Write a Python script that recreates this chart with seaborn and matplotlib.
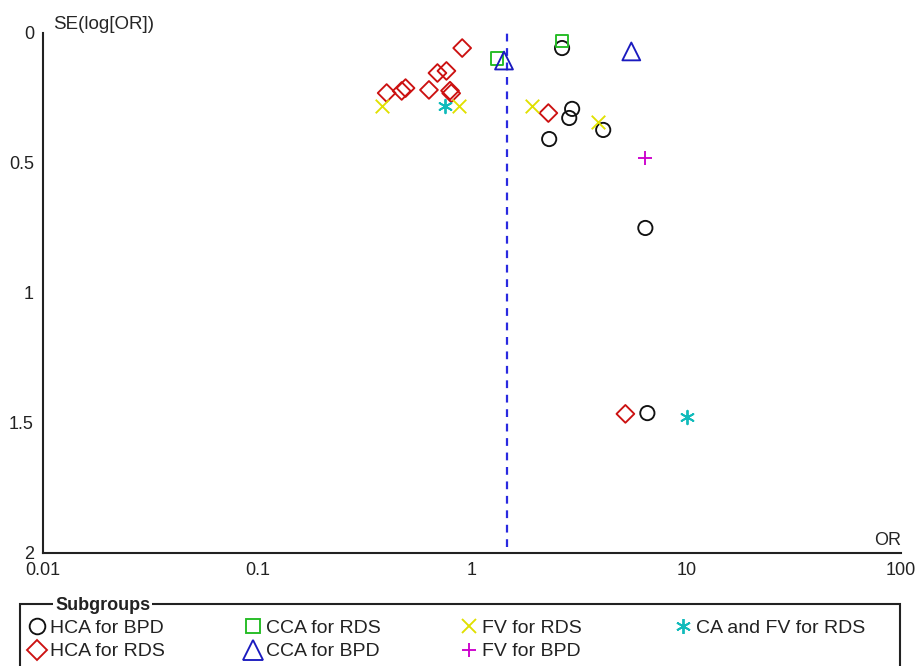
import matplotlib
matplotlib.use("Agg")
import matplotlib.pyplot as plt
import matplotlib.patches as mpatches
from matplotlib.lines import Line2D
import seaborn as sns
import pandas as pd

# ── data ──
hca_bpd_or = [2.63, 2.93, 2.84, 2.29, 4.09, 6.43, 6.57]
hca_bpd_se = [0.058, 0.292, 0.327, 0.408, 0.373, 0.75, 1.462]

hca_rds_or = [0.90, 0.69, 0.76, 0.40, 0.49, 0.47, 0.63, 0.79, 0.80, 2.27, 5.19]
hca_rds_se = [0.058, 0.154, 0.146, 0.231, 0.212, 0.223, 0.219, 0.222, 0.232, 0.308, 1.465]

cca_rds_or = [1.31, 2.63]
cca_rds_se = [0.099, 0.031]

cca_bpd_or = [1.41, 5.53]
cca_bpd_se = [0.106, 0.071]

fv_rds_or = [0.38, 0.87, 1.91, 3.88]
fv_rds_se = [0.281, 0.281, 0.281, 0.342]

fv_bpd_or = [6.43]
fv_bpd_se = [0.48]

ca_fv_rds_or = [0.75, 10.1]
ca_fv_rds_se = [0.281, 1.477]

pooled_or = 1.46

x_ticks = [0.01, 0.1, 1, 10, 100]
x_tick_labels = ["0.01", "0.1", "1", "10", "100"]
y_ticks = [0, 0.5, 1, 1.5, 2]
y_tick_labels = ["0", "0.5", "1", "1.5", "2"]

groups = [
    # name, ORs, SEs, marker, colour, size, open marker?
    ("HCA for BPD", hca_bpd_or, hca_bpd_se, "o", "#111111", 105, True),
    ("HCA for RDS", hca_rds_or, hca_rds_se, "D", "#cc1111", 82, True),
    ("CCA for RDS", cca_rds_or, cca_rds_se, "s", "#22bb22", 80, True),
    ("CCA for BPD", cca_bpd_or, cca_bpd_se, "^", "#1a1abf", 165, True),
    ("FV for RDS", fv_rds_or, fv_rds_se, "x", "#e0e000", 95, False),
    ("FV for BPD", fv_bpd_or, fv_bpd_se, "+", "#cc00cc", 95, False),
    ("CA and FV for RDS", ca_fv_rds_or, ca_fv_rds_se, (6, 2, 0), "#11bbbb", 95, False),
]

sns.set_theme(style="white")
plt.rcParams["font.family"] = ["Liberation Sans", "DejaVu Sans"]
plt.rcParams["text.color"] = "#222222"
plt.rcParams["xtick.color"] = "#222222"
plt.rcParams["ytick.color"] = "#222222"

fig = plt.figure(figsize=(9.19, 6.66), dpi=100)
ax = fig.add_axes([0.0468, 0.1697, 0.9336, 0.7808])

handles = []
for name, ors, ses, mk, col, size, is_open in groups:
    df = pd.DataFrame({"OR": ors, "SE": ses})
    if is_open:
        sns.scatterplot(data=df, x="OR", y="SE", ax=ax, marker=mk, s=size,
                        color=col, facecolor="none", edgecolor=col,
                        linewidth=1.35, legend=False, zorder=3)
    else:
        sns.scatterplot(data=df, x="OR", y="SE", ax=ax, marker=mk, s=size,
                        color=col, linewidth=1.35, legend=False, zorder=3)
    handles.append(Line2D([], [], linestyle="none", marker=mk,
                          markersize=size ** 0.5 * 1.1, markerfacecolor="none",
                          markeredgecolor=col, markeredgewidth=1.35, label=name))

ax.axvline(pooled_or, ymin=0.012, ymax=1, color="#2a2ae0", lw=1.6,
           linestyle=(0, (3.5, 3)), zorder=2)

ax.set_xscale("log")
ax.set_xlim(0.01, 100)
ax.set_ylim(2, 0)
ax.set_xticks(x_ticks)
ax.set_xticklabels(x_tick_labels)
ax.set_yticks(y_ticks)
ax.set_yticklabels(y_tick_labels)
ax.minorticks_off()
ax.tick_params(axis="both", direction="inout", length=11, width=1.2,
               labelsize=13, pad=1)

sns.despine(ax=ax)
for sp in ("left", "bottom"):
    ax.spines[sp].set_color("#222222")
    ax.spines[sp].set_linewidth(1.5)

ax.set_ylabel("SE(log[OR])", rotation=0, ha="left", va="bottom", fontsize=13.5)
ax.yaxis.set_label_coords(0.0117, 1.0)
ax.set_xlabel("OR", ha="right", va="bottom", fontsize=13)
ax.xaxis.set_label_coords(1.0, 0.008)

# legend box with the title sitting in the frame line
frame = mpatches.Rectangle((20 / 919, -0.05), 880 / 919, 0.05 + 62 / 666,
                           transform=fig.transFigure, fill=False,
                           edgecolor="#222222", lw=1.5, clip_on=False)
fig.add_artist(frame)
fig.text(55 / 919, 1 - 605 / 666, "Subgroups", fontsize=13, fontweight="bold",
         ha="left", va="center",
         bbox=dict(facecolor="white", edgecolor="none", pad=1.5))

# one legend per column so each column starts where the reference has it
col_left_px = [28, 244, 460, 674]
col_items = [handles[0:2], handles[2:4], handles[4:6], handles[6:7]]
for left, items in zip(col_left_px, col_items):
    fig.legend(handles=items, ncol=1, loc="upper left",
               bbox_to_anchor=(left / 919, 1 - 619 / 666), frameon=False,
               fontsize=14, handlelength=0.9, handletextpad=0.25,
               labelspacing=0.32, borderpad=0, borderaxespad=0)

fig.savefig("out.png", dpi=100)
